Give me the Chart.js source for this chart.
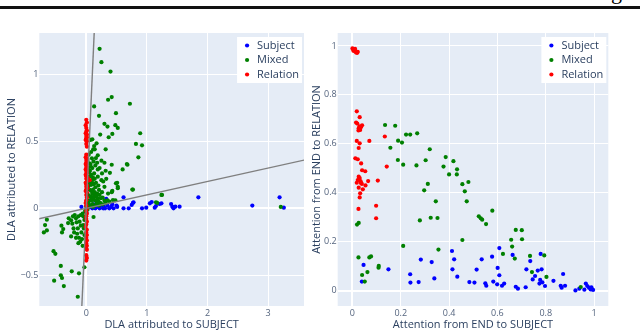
<!DOCTYPE html>
<html><head><meta charset="utf-8">
<script src="https://cdn.jsdelivr.net/npm/chart.js@4"></script>
<style>
html,body{margin:0;padding:0;background:#fff;width:640px;height:331px;overflow:hidden;position:relative;font-family:'Open Sans',sans-serif;}
#c1wrap{position:absolute;left:0;top:0;width:320px;height:331px;}
#c2wrap{position:absolute;left:300px;top:0;width:340px;height:331px;}
#rule{position:absolute;left:0;top:6px;width:640px;height:3px;background:#111;}
#gtail{position:absolute;left:611px;top:-21px;font:22px 'Liberation Serif',serif;color:#000;}
</style></head>
<body>
<div id="gtail">g</div>
<div id="rule"></div>
<div id="c1wrap"><canvas id="c1"></canvas></div>
<div id="c2wrap"><canvas id="c2"></canvas></div>
<script>
// ---------- DATA ----------
const seriesLabels = ['Subject', 'Mixed', 'Relation'];
const seriesColors = ['#0000ff', '#008000', '#ff0000'];

// Left panel: DLA attributed to SUBJECT (x) vs RELATION (y)
const dlaSubject = [[-0.08,0.01],[0.0,-0.03],[0.02,0.0],[0.05,0.02],[0.08,0.01],[0.1,0.0],[0.12,0.03],[0.15,0.0],[0.18,0.01],[0.2,0.04],[0.22,0.0],[0.25,0.02],[0.28,0.0],[0.29,0.01],[0.31,0.0],[0.33,0.07],[0.35,0.02],[0.38,0.0],[0.41,0.01],[0.43,0.03],[0.45,0.0],[0.5,0.02],[0.51,0.01],[0.615,0.082],[0.615,0.0],[0.7,0.0],[0.75,0.025],[0.77,0.04],[0.78,0.045],[0.92,0.0],[0.99,0.005],[1.05,0.037],[1.08,0.047],[1.13,0.005],[1.15,0.017],[1.21,0.032],[1.24,0.037],[1.40,0.032],[1.42,0.012],[1.44,0.0],[1.47,0.012],[1.54,0.012],[1.85,0.082],[2.74,0.02],[3.19,0.082],[3.26,0.005]];
const dlaMixed = [[0.22,1.19],[0.25,1.09],[0.40,1.02],[0.42,0.83],[0.36,0.81],[0.72,0.78],[0.13,0.76],[0.21,0.69],[0.49,0.71],[0.30,0.63],[0.35,0.61],[0.48,0.62],[0.52,0.60],[0.23,0.55],[0.37,0.53],[0.43,0.555],[0.89,0.56],[0.82,0.48],[0.92,0.47],[0.07,0.51],[0.10,0.515],[0.17,0.485],[0.13,0.465],[0.14,0.44],[0.32,0.44],[0.115,0.44],[0.86,0.38],[0.67,0.33],[0.60,0.29],[0.19,0.395],[0.16,0.375],[0.093,0.373],[0.04,0.40],[0.25,0.355],[0.30,0.34],[0.42,0.325],[0.68,0.325],[0.32,0.28],[0.39,0.265],[0.19,0.29],[0.13,0.26],[0.06,0.28],[0.05,0.335],[0.077,0.31],[0.19,0.236],[0.05,0.236],[0.25,0.21],[0.10,0.21],[0.49,0.186],[0.52,0.15],[0.43,0.13],[0.30,0.16],[0.36,0.11],[0.21,0.137],[0.15,0.157],[0.077,0.174],[0.10,0.11],[0.17,0.092],[0.24,0.075],[0.30,0.057],[0.13,0.062],[0.20,0.05],[0.077,0.087],[0.04,0.05],[0.10,0.032],[0.187,0.025],[0.44,0.062],[0.0,0.012],[0.51,0.19],[0.77,0.14],[1.25,0.10],[1.15,0.045],[3.21,0.01],[0.52,0.16],[0.42,0.12],[0.48,0.06],[1.24,0.10],[1.17,0.04],[0.76,0.14],
[0.03,0.30],[0.05,0.27],[0.08,0.25],[0.11,0.23],[0.14,0.22],[0.06,0.20],[0.09,0.19],[0.12,0.18],[0.16,0.19],[0.20,0.17],[0.03,0.16],[0.05,0.14],[0.08,0.13],[0.11,0.14],[0.14,0.12],[0.18,0.11],[0.22,0.10],[0.26,0.12],[0.03,0.10],[0.06,0.09],[0.09,0.07],[0.12,0.08],[0.15,0.06],[0.19,0.07],[0.23,0.04],[0.27,0.03],[0.32,0.04],[0.35,0.06],[0.04,0.03],[0.07,0.02],[0.11,0.01],[0.14,0.02],[0.17,0.04],[0.21,0.02],[0.05,0.06],[0.02,0.22],[0.04,0.18],[0.07,0.33],[0.10,0.30],[0.12,0.35],[0.15,0.32],[0.18,0.34],[0.22,0.30],[0.26,0.26],[0.28,0.20],[0.33,0.22],[0.08,0.42],[0.02,0.36],[0.09,0.06],[0.13,0.10],[0.16,0.09],[0.27,0.08],[0.38,0.05],[0.01,0.05],[0.02,-0.01],[0.03,0.01],
[-0.65,-0.085],[-0.68,-0.125],[-0.70,-0.18],[-0.65,-0.165],[-0.41,-0.13],[-0.38,-0.155],[-0.40,-0.18],[-0.29,-0.075],[-0.25,-0.09],[-0.30,-0.11],[-0.23,-0.115],[-0.17,-0.075],[-0.13,-0.06],[-0.09,-0.05],[-0.16,-0.105],[-0.21,-0.15],[-0.14,-0.15],[-0.20,-0.18],[-0.25,-0.21],[-0.17,-0.22],[-0.12,-0.22],[-0.07,-0.23],[-0.10,-0.25],[-0.06,-0.28],[-0.13,-0.26],[-0.08,-0.18],[-0.05,-0.125],[-0.03,-0.087],[-0.03,-0.20],[0.12,-0.065],[-0.54,-0.32],[-0.51,-0.34],[-0.42,-0.43],[-0.24,-0.47],[-0.12,-0.485],[-0.42,-0.50],[-0.40,-0.52],[-0.53,-0.54],[-0.37,-0.58],[-0.14,-0.66],[-0.03,-0.44],[-0.06,-0.04],[-0.11,-0.10],[-0.19,-0.05],[-0.02,-0.02],[-0.04,-0.15],[-0.09,-0.13],[-0.22,-0.06],[-0.15,-0.19],[-0.05,-0.06]];
const dlaRelation = [[0.0,0.66],[0.01,0.64],[-0.01,0.62],[0.0,0.60],[0.01,0.58],[0.0,0.57],[-0.01,0.56],[0.01,0.55],[0.0,0.54],[0.01,0.53],[0.0,0.52],[-0.01,0.51],[0.01,0.50],[0.0,0.48],[0.01,0.46],[0.0,0.40],[-0.01,0.38],[0.01,0.37],[0.0,0.36],[0.01,0.35],[0.0,0.34],[-0.01,0.33],[0.0,0.32],[0.01,0.31],[0.0,0.30],[-0.01,0.29],[0.01,0.28],[0.0,0.27],[0.01,0.26],[-0.01,0.25],[0.0,0.24],[0.02,0.23],[0.0,0.22],[0.055,0.21],[0.01,0.20],[-0.01,0.19],[0.0,0.18],[0.01,0.17],[0.0,0.16],[0.02,0.15],[0.0,0.14],[-0.01,0.13],[0.01,0.12],[0.0,0.10],[0.01,0.08],[0.0,0.06],[-0.01,0.04],[0.0,0.02],[0.01,0.0],[0.0,-0.02],[0.01,-0.04],[0.0,-0.06],[0.0,-0.08],[0.01,-0.10],[0.0,-0.12],[-0.01,-0.14],[0.01,-0.16],[0.0,-0.18],[0.01,-0.20],[0.0,-0.22],[0.01,-0.24],[0.0,-0.26],[0.01,-0.28],[0.0,-0.30],[0.01,-0.31],[0.0,-0.35],[0.01,-0.37],[0.0,-0.39]];
// Reference lines (y = 10x and y = 0.1x)
const refLineSteep = [[-0.08,-0.8],[0.14,1.4]];
const refLineFlat = [[-0.8,-0.08],[3.7,0.37]];
const dlaXTicks = [0, 1, 2, 3];
const dlaYTicks = [-0.5, 0, 0.5, 1];

// Right panel: Attention from END to SUBJECT (x) vs RELATION (y)
const attSubject = [[0.046,0.105],[0.039,0.037],[0.149,0.087],[0.239,0.067],[0.24,0.033],[0.274,0.035],[0.283,0.127],[0.328,0.117],[0.339,0.05],[0.412,0.162],[0.421,0.128],[0.414,0.087],[0.434,0.057],[0.484,0.035],[0.505,0.033],[0.514,0.086],[0.535,0.128],[0.55,0.03],[0.554,0.02],[0.578,0.139],[0.583,0.037],[0.599,0.026],[0.601,0.093],[0.608,0.063],[0.608,0.174],[0.619,0.02],[0.628,0.029],[0.663,0.146],[0.676,0.016],[0.685,0.008],[0.717,0.014],[0.72,0.087],[0.736,0.121],[0.746,0.046],[0.756,0.06],[0.767,0.082],[0.774,0.029],[0.777,0.044],[0.779,0.15],[0.783,0.087],[0.786,0.034],[0.797,0.019],[0.832,0.04],[0.862,0.02],[0.866,0.012],[0.872,0.068],[0.88,0.02],[0.923,0.001],[0.939,0.008],[0.96,0.004],[0.966,0.029],[0.972,0.019],[0.979,0.012],[0.989,0.014],[0.996,0.003],[0.986,0.005]];
const attMixed = [[0.135,0.677],[0.177,0.674],[0.189,0.613],[0.205,0.605],[0.157,0.584],[0.222,0.638],[0.239,0.638],[0.268,0.643],[0.32,0.578],[0.188,0.534],[0.21,0.515],[0.265,0.512],[0.303,0.533],[0.386,0.546],[0.418,0.529],[0.433,0.496],[0.377,0.507],[0.40,0.475],[0.432,0.475],[0.312,0.436],[0.297,0.41],[0.455,0.435],[0.48,0.444],[0.465,0.406],[0.345,0.365],[0.473,0.365],[0.279,0.287],[0.324,0.298],[0.352,0.297],[0.523,0.304],[0.531,0.296],[0.537,0.29],[0.553,0.272],[0.579,0.327],[0.455,0.207],[0.21,0.183],[0.356,0.168],[0.026,0.277],[0.019,0.27],[0.025,0.136],[0.07,0.136],[0.077,0.14],[0.109,0.101],[0.108,0.094],[0.062,0.076],[0.04,0.064],[0.051,0.037],[0.676,0.248],[0.701,0.247],[0.657,0.208],[0.702,0.21],[0.661,0.18],[0.672,0.131],[0.623,0.15],[0.735,0.142],[0.794,0.144],[0.803,0.056],[0.743,0.076],[0.945,0.015]];
const attRelation = [[0.0,0.99],[0.004,0.986],[0.008,0.983],[0.012,0.978],[0.016,0.975],[0.02,0.972],[0.011,0.988],[0.004,0.98],[0.015,0.973],[0.022,0.976],[0.018,0.733],[0.03,0.709],[0.015,0.687],[0.02,0.683],[0.04,0.676],[0.03,0.672],[0.026,0.664],[0.032,0.657],[0.025,0.655],[0.035,0.668],[0.018,0.612],[0.07,0.612],[0.134,0.63],[0.03,0.602],[0.026,0.583],[0.012,0.541],[0.022,0.537],[0.036,0.52],[0.04,0.492],[0.053,0.488],[0.142,0.507],[0.026,0.466],[0.03,0.46],[0.022,0.452],[0.034,0.447],[0.065,0.448],[0.105,0.45],[0.018,0.441],[0.039,0.436],[0.054,0.43],[0.026,0.421],[0.043,0.414],[0.032,0.398],[0.03,0.381],[0.025,0.334],[0.098,0.347],[0.098,0.296],[0.028,0.455],[0.035,0.44]];
const attXTicks = [0, 0.2, 0.4, 0.6, 0.8, 1];
const attYTicks = [0, 0.2, 0.4, 0.6, 0.8, 1];

// ---------- RENDERING ----------
const toXY = arr => arr.map(p => ({x: p[0], y: p[1]}));
const PLOT_BG = '#E5ECF6';
const TITLE_COLOR = '#2a3f5f';
const TICK_COLOR = '#55657f';
const FONT = "'Open Sans', sans-serif";

const bgPlugin = {
  id: 'plotBg',
  beforeDraw(chart) {
    const {ctx, chartArea: a} = chart;
    ctx.save();
    ctx.fillStyle = PLOT_BG;
    ctx.fillRect(a.left, a.top, a.right - a.left, a.bottom - a.top);
    ctx.restore();
  }
};
const legendPlugin = {
  id: 'insideLegend',
  afterDraw(chart) {
    const {ctx, chartArea: a} = chart;
    const items = chart.data.datasets.filter(d => d.inLegend);
    ctx.save();
    ctx.font = '11px ' + FONT;
    const tw = Math.max(...items.map(d => ctx.measureText(d.label).width));
    const w = 23 + tw, h = 46;
    const x0 = a.right - 2 - w, y0 = a.top + 4;
    ctx.fillStyle = '#fff';
    ctx.fillRect(x0, y0, w, h);
    items.forEach((d, i) => {
      const cy = y0 + 8.5 + i * 14.5;
      ctx.fillStyle = d.backgroundColor;
      ctx.beginPath(); ctx.arc(x0 + 10, cy, 2.1, 0, Math.PI * 2); ctx.fill();
      ctx.fillStyle = TITLE_COLOR;
      ctx.textBaseline = 'middle'; ctx.textAlign = 'left';
      ctx.fillText(d.label, x0 + 20, cy);
    });
    ctx.restore();
  }
};

function fmt(v) { return String(Math.round(v * 100) / 100).replace('-', '\u2212'); }

function axis(cfg) {
  const horiz = cfg.pos === 'bottom';
  return {
    type: 'linear', position: cfg.pos, min: cfg.min, max: cfg.max,
    afterBuildTicks: s => { s.ticks = cfg.ticks.map(v => ({value: v})); },
    afterFit: s => { if (horiz) s.height = cfg.size; else s.width = cfg.size; },
    grid: {color: '#ffffff', lineWidth: c => (c.tick && c.tick.value === 0 ? 2 : 1), drawTicks: false},
    border: {display: false},
    ticks: {font: {size: 9, family: FONT}, color: TICK_COLOR, padding: horiz ? 2 : 1, autoSkip: false, maxRotation: 0, callback: v => fmt(v)},
    title: {display: true, text: cfg.title, color: TITLE_COLOR, font: {size: 11, family: FONT}, padding: horiz ? {top: 0, bottom: 0} : {top: cfg.titlePad, bottom: 0}}
  };
}

function scatterSet(i, pts, order) {
  return {label: seriesLabels[i], data: toXY(pts), backgroundColor: seriesColors[i], borderWidth: 0, pointRadius: 2.1, pointHoverRadius: 2.1, inLegend: true, order: order};
}
function lineSet(pts) {
  return {label: 'fit', data: toXY(pts), showLine: true, borderColor: '#7f7f7f', borderWidth: 1.4, pointRadius: 0, backgroundColor: '#7f7f7f', inLegend: false, order: 0};
}

function makeChart(id, sets, xa, ya, pad) {
  return new Chart(document.getElementById(id), {
    type: 'scatter',
    data: {datasets: sets},
    options: {
      responsive: true, maintainAspectRatio: false, animation: false,
      layout: {padding: pad},
      plugins: {legend: {display: false}, tooltip: {enabled: false}},
      scales: {x: axis(xa), y: axis(ya)}
    },
    plugins: [bgPlugin, legendPlugin]
  });
}

makeChart('c1', [
  lineSet(refLineSteep), lineSet(refLineFlat),
  scatterSet(0, dlaSubject, 3), scatterSet(1, dlaMixed, 2), scatterSet(2, dlaRelation, 1)
], {pos: 'bottom', min: -0.775, max: 3.593, ticks: dlaXTicks, size: 25, title: 'DLA attributed to SUBJECT'},
   {pos: 'left', min: -0.729, max: 1.308, ticks: dlaYTicks, size: 39.3, title: 'DLA attributed to RELATION', titlePad: 5},
   {left: 0, right: 16, top: 33, bottom: 0});

makeChart('c2', [
  scatterSet(0, attSubject, 3), scatterSet(1, attMixed, 2), scatterSet(2, attRelation, 1)
], {pos: 'bottom', min: -0.061, max: 1.059, ticks: attXTicks, size: 25, title: 'Attention from END to SUBJECT'},
   {pos: 'left', min: -0.0627, max: 1.053, ticks: attYTicks, size: 37.7, title: 'Attention from END to RELATION', titlePad: 10.4},
   {left: 0, right: 31.7, top: 33, bottom: 0});
</script>
</body></html>
